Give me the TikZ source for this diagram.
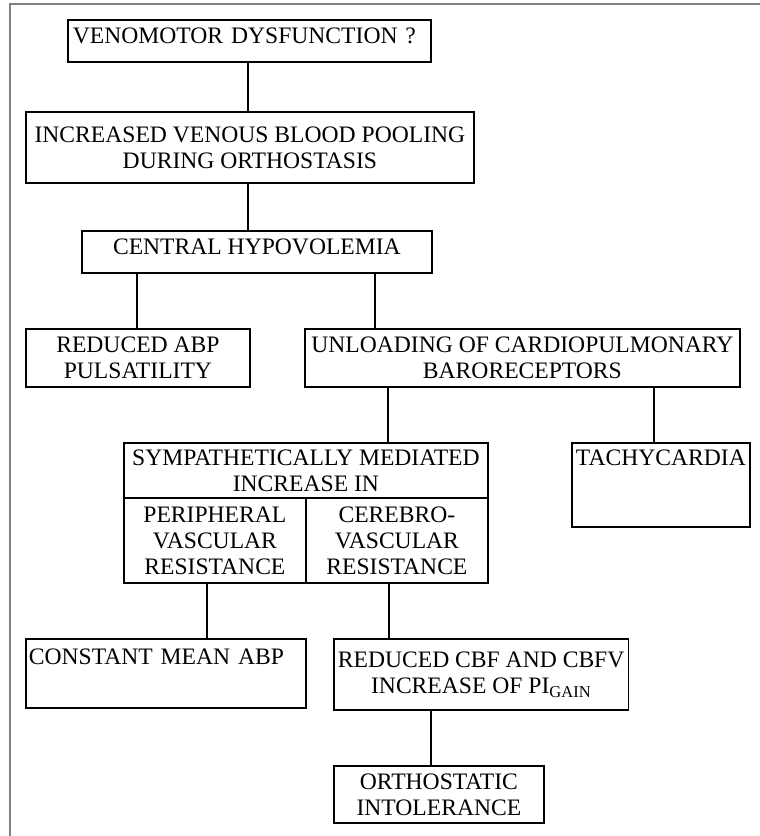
\documentclass[tikz,border=0pt]{standalone}
\usepackage{fontspec}
\setmainfont{Liberation Serif}
\newcommand\boxfont{\fontsize{23.6}{26}\selectfont}
\tikzset{
  cell/.style={draw, line width=1.8pt, inner xsep=4pt, inner ysep=0pt,
    anchor=north west, align=center, font=\boxfont},
  link/.style={line width=1.4pt},
  frame/.style={draw=gray, line width=1.5pt}
}
\begin{document}
\begin{tikzpicture}[x=1pt,y=-1pt]
  \useasboundingbox (0,0) rectangle (760,836);
  \draw[frame] (760,4) -- (10,4) -- (10,836);

  % chain of boxes
  \node[cell, text width=353pt, align=left, inner xsep=5pt,
    text height=24pt, text depth=18pt] (venomotor) at (67,19) {VENOMOTOR DYSFUNCTION ?};
  \node[cell, minimum width=448, minimum height=71] (pooling) at (25,111)
    {INCREASED VENOUS BLOOD POOLING\\DURING ORTHOSTASIS};
  \node[cell, minimum width=350, text height=24pt, text depth=18pt] (hypovolemia) at (81,230)
    {CENTRAL HYPOVOLEMIA};
  \node[cell, minimum width=224, minimum height=58] (pulsatility) at (25,328)
    {REDUCED ABP\\PULSATILITY};
  \node[cell, minimum width=435, minimum height=58] (unloading) at (304,328)
    {UNLOADING OF CARDIOPULMONARY\\BARORECEPTORS};
  \node[cell, minimum width=178, text height=23pt, text depth=61pt] (tachycardia) at (571,442)
    {TACHYCARDIA};

  % split box
  \node[cell, minimum width=364, minimum height=55] (sympathetic) at (123,442)
    {SYMPATHETICALLY MEDIATED\\INCREASE IN};
  \node[cell, minimum width=182, minimum height=85] (peripheral) at (123,497)
    {PERIPHERAL\\VASCULAR\\RESISTANCE};
  \node[cell, minimum width=182, minimum height=85] (cerebro) at (305,497)
    {CEREBRO-\\VASCULAR\\RESISTANCE};

  \node[cell, text width=274pt, align=left, inner xsep=3pt,
    text height=26pt, text depth=43pt] (constant) at (25,638) {CONSTANT MEAN ABP};
  \node[cell, minimum width=294, minimum height=71] (cbf) at (333,638)
    {REDUCED CBF AND CBFV\\INCREASE OF PI\textsubscript{GAIN}};
  \node[cell, minimum width=210, minimum height=57] (intolerance) at (333,765)
    {ORTHOSTATIC\\INTOLERANCE};

  % connectors
  \foreach \a/\b/\x in {venomotor/pooling/248, pooling/hypovolemia/248,
      hypovolemia/pulsatility/137, hypovolemia/unloading/375,
      unloading/sympathetic/388, unloading/tachycardia/654,
      peripheral/constant/207, cerebro/cbf/389, cbf/intolerance/431}
    {\draw[link] (\a.south -| \x,0) -- (\b.north -| \x,0);}
\end{tikzpicture}
\end{document}
